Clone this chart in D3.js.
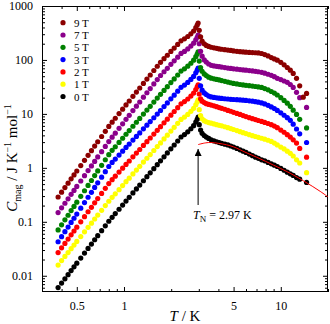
<!DOCTYPE html>
<html>
<head>
<meta charset="utf-8">
<script src="https://cdn.jsdelivr.net/npm/d3@7"></script>
<style>
  body { margin: 0; background: #fff; }
</style>
</head>
<body>
<div class="canvas"></div>
<script>
// measured temperatures (K), shared by all series
const temps = [0.38,0.40,0.42,0.44,0.46,0.48,0.50,0.53,0.56,0.59,0.62,0.65,0.68,0.72,0.76,0.80,0.84,0.88,0.93,0.98,
  1.03,1.08,1.14,1.20,1.26,1.33,1.40,1.47,1.55,1.63,1.71,1.80,1.89,1.99,2.09,2.20,2.31,2.43,2.55,2.67,2.78,2.87,2.93,2.97,
  3.02,3.08,3.15,3.25,3.35,3.47,3.60,3.75,3.90,4.05,4.20,4.40,4.60,4.80,5.00,5.25,5.50,5.75,6.00,6.30,
  6.60,6.90,7.20,7.55,7.90,8.30,8.70,9.10,9.50,10.0,10.5,11.0,11.5,12.0,12.6,13.2,13.9,14.6]

// Cmag (J K-1 mol-1), each field offset for clarity
const c9T = [0.288,0.354,0.431,0.519,0.625,0.740,0.875,1.104,1.380,1.710,2.080,2.529,3.048,3.811,4.764,5.861,7.031,8.299,10.12,12.25,
  14.69,17.34,21.13,25.35,30.2,36.8,44.2,52.6,63.7,76.4,90.4,105.4,122.2,143.6,166,194,226,246,272,305,344,397,444,484,
  354.8,269.2,223.9,199.5,186.2,177.8,171.8,167.9,164.1,160.3,157.8,154.9,152.4,150.0,147.2,144.5,142.2,140.6,139.3,138.0,
  137.1,136.1,134.9,131.8,125.9,118.9,110.9,104.7,98.9,90.2,81.3,72.4,64.6,56.2,45.7,33.1,20.4,24.0]
const c7T = [0.148,0.182,0.221,0.267,0.323,0.382,0.452,0.571,0.716,0.889,1.084,1.318,1.592,1.995,2.500,3.076,3.698,4.385,5.395,6.561,
  7.925,9.397,11.53,13.90,16.63,20.42,24.66,29.51,35.89,43.35,51.5,60.4,70.1,82.8,96.2,112.7,132.1,144.2,160.0,180.7,204.2,236.0,263.6,288.4,
  199.5,144.5,117.5,100,91.2,84.1,79.4,77.6,76.2,75.0,73.8,72.1,70.8,69.7,68.5,67.5,66.4,65.3,64.6,63.5,
  62.5,61.5,60.4,58.9,56.8,54.3,51.9,49.0,45.7,43.2,40.7,38.5,35.1,30.9,25.1,20.0,null,13.2]
const c5T = [0.0708,0.0881,0.1086,0.1324,0.1618,0.1932,0.2312,0.2965,0.3767,0.4732,0.5834,0.7194,0.877,1.114,1.413,1.758,2.109,2.460,2.965,3.540,
  4.198,4.909,5.902,6.998,8.241,9.93,11.78,13.84,16.56,19.63,23.07,27.23,31.92,38.02,44.46,52.6,62.1,68.4,76.6,86.9,98.9,115.1,128.8,141.3,
  95.5,72.4,61.7,55.0,51.3,47.9,45.9,44.7,43.6,42.7,41.5,40.1,38.9,37.8,36.8,35.9,35.1,34.4,33.9,33.3,
  32.8,32.2,31.6,30.9,29.5,27.9,26.0,24.3,22.4,20.0,17.8,15.8,13.8,11.7,9.77,7.94,null,5.50]
const c3T = [0.0427,0.0531,0.0655,0.0798,0.0975,0.1164,0.1393,0.1786,0.2270,0.2851,0.3516,0.4335,0.5284,0.6714,0.8511,1.059,1.259,1.455,1.726,2.037,
  2.388,2.754,3.266,3.828,4.446,5.284,6.194,7.194,8.492,9.93,11.56,13.65,16.00,19.05,22.28,26.36,31.12,34.28,38.37,43.55,49.55,57.68,64.57,70.79,
  45.7,33.1,27.5,24.5,22.9,21.4,20.65,20.18,19.86,19.59,19.36,19.10,18.88,18.66,18.49,18.32,18.16,17.95,17.74,17.50,
  17.22,16.87,16.48,15.96,15.31,14.45,13.49,12.59,11.61,10.47,9.44,8.51,7.59,6.46,5.25,4.27,null,2.95]
const c2T = [0.0269,0.0329,0.0398,0.0478,0.0574,0.0676,0.0796,0.1000,0.1245,0.1535,0.1858,0.2249,0.2698,0.3357,0.4178,0.5105,0.6039,0.6998,0.8337,0.9863,
  1.159,1.340,1.600,1.879,2.188,2.606,3.062,3.573,4.227,4.966,5.794,6.823,7.980,9.484,11.09,13.06,15.38,16.90,18.88,21.43,24.32,28.31,31.70,34.67,
  23.4,19.1,17.2,16.2,15.5,15.0,14.6,14.1,13.6,13.1,12.7,12.2,11.6,11.2,10.7,10.2,9.77,9.33,8.91,8.51,
  8.17,7.85,7.55,7.24,6.95,6.64,6.31,5.96,5.56,5.01,4.57,4.12,3.72,3.31,2.88,2.29,null,1.58]
const c1T = [0.0158,0.0191,0.0228,0.0269,0.0318,0.0371,0.0432,0.0532,0.0652,0.0791,0.0944,0.1127,0.1334,0.1633,0.1995,0.2404,0.2838,0.3296,0.3945,0.4699,
  0.5546,0.6442,0.7709,0.9099,1.067,1.279,1.507,1.766,2.099,2.477,2.904,3.436,4.036,4.808,5.649,6.683,7.907,8.730,9.795,11.14,12.71,14.79,16.60,18.20,
  12.0,9.33,8.13,7.50,7.16,6.92,6.73,6.52,6.31,6.15,6.00,5.78,5.56,5.35,5.14,4.90,4.68,4.49,4.31,4.12,
  3.95,3.81,3.68,3.54,3.40,3.25,3.09,2.88,2.66,2.43,2.24,2.04,1.86,1.66,1.41,1.23,null,0.813]
const c0T = [0.00603,0.00731,0.00879,0.01047,0.01247,0.01462,0.01710,0.02128,0.02630,0.03214,0.03864,0.04645,0.05534,0.06839,0.08433,0.1023,0.1213,0.1419,0.1710,0.2046,
  0.2427,0.2838,0.3428,0.4064,0.4786,0.5768,0.6855,0.8072,0.9660,1.146,1.349,1.603,1.888,2.254,2.655,3.148,3.733,4.140,4.645,5.309,6.053,7.063,7.943,8.710,
  6.31,5.01,4.37,3.98,3.72,3.51,3.31,3.16,3.05,2.94,2.85,2.75,2.66,2.54,2.43,2.29,2.16,2.04,1.93,1.80,
  1.68,1.58,1.50,1.41,1.35,1.26,1.19,1.12,1.06,0.977,0.902,0.832,0.776,0.724,0.661,0.617,null,0.537]

// fit curve through the 0 T paramagnetic tail
const fitT = [2.97,3.3,3.6,4.0,4.5,5,6,7,8,9,10,12,14,16,18,20]
const fitC = [2.7,2.9,2.95,2.85,2.68,2.45,1.92,1.58,1.32,1.12,0.97,0.74,0.57,0.45,0.36,0.29]

const fieldLabels = ['9 T','7 T','5 T','3 T','2 T','1 T','0 T']
const fieldColors = ['#8b0000','#8b008b','#008000','#0000ff','#ff0000','#ffff00','#000000']
const fieldValues = [c9T, c7T, c5T, c3T, c2T, c1T, c0T]

const tN = 2.97
const xMajor = [0.5, 1, 5, 10]
const xMinor = [0.3,0.4,0.6,0.7,0.8,0.9,2,3,4,6,7,8,9,20]
const yMajor = [0.01, 0.1, 1, 10, 100, 1000]

const width = 330
const height = 324
const pLeft = 42, pRight = 328, pTop = 6, pBottom = 292
const serif = 'Liberation Serif, Times New Roman, serif'

const svg = d3.select('.canvas')
  .append('svg')
  .attr('width', width)
  .attr('height', height)
  .style('font-family', serif)

const x = d3.scaleLog().domain([0.3, 20]).range([pLeft, pRight])
const y = d3.scaleLog().domain([0.005, 1000]).range([pBottom, pTop])

// minor y ticks: 2..9 of every decade
const yMinor = []
;[0.001, 0.01, 0.1, 1, 10, 100].forEach(d => {
  for (let k = 2; k <= 9; k++) {
    const v = d * k
    if (v > 0.005 && v < 1000) yMinor.push(v)
  }
})

// *axes, ticks pointing inward on all four sides
function addAxis(axisFn, scale, values, size, transform, labels) {
  const g = svg.append('g')
    .attr('transform', transform)
    .call(axisFn(scale).tickValues(values).tickSize(size).tickPadding(labels ? -size + 4 : 0)
      .tickFormat(labels ? (d => String(d)) : ''))
  g.select('.domain').remove()
  g.selectAll('line').attr('stroke', '#000').attr('stroke-width', 1)
  g.selectAll('text').attr('fill', '#000').style('font-family', serif).attr('font-size', 12)
  return g
}

addAxis(d3.axisBottom, x, xMinor, -3, `translate(0,${pBottom})`, false)
addAxis(d3.axisBottom, x, xMajor, -5, `translate(0,${pBottom})`, true)
addAxis(d3.axisTop, x, xMinor, -3, `translate(0,${pTop})`, false)
addAxis(d3.axisTop, x, xMajor, -5, `translate(0,${pTop})`, false)
addAxis(d3.axisLeft, y, yMinor, -3, `translate(${pLeft},0)`, false)
addAxis(d3.axisLeft, y, yMajor, -5, `translate(${pLeft},0)`, true)
addAxis(d3.axisRight, y, yMinor, -3, `translate(${pRight},0)`, false)
addAxis(d3.axisRight, y, yMajor, -5, `translate(${pRight},0)`, false)

svg.append('rect')
  .attr('x', pLeft + 0.5)
  .attr('y', pTop + 0.5)
  .attr('width', pRight - pLeft - 1)
  .attr('height', pBottom - pTop - 1)
  .attr('fill', 'none')
  .attr('stroke', '#000')
  .attr('stroke-width', 1)

const plot = svg.append('g')

// *data points, 0 T drawn first
fieldValues.slice().reverse().forEach((vals, ri) => {
  const i = fieldValues.length - 1 - ri
  const pts = temps.map((t, j) => ({ t: t, c: vals[j] })).filter(d => d.c !== null)
  plot.append('g')
    .selectAll('circle')
    .data(pts)
    .enter()
    .append('circle')
    .attr('cx', d => x(d.t))
    .attr('cy', d => y(d.c))
    .attr('r', 2.6)
    .attr('fill', fieldColors[i])
})

// *fit line
const line = d3.line()
  .x(d => x(d[0]))
  .y(d => y(d[1]))
  .curve(d3.curveCatmullRom)

plot.append('path')
  .datum(fitT.map((t, i) => [t, fitC[i]]))
  .attr('d', line)
  .attr('fill', 'none')
  .attr('stroke', '#ff0000')
  .attr('stroke-width', 1)

// *legend
const legend = svg.append('g')
fieldLabels.forEach((lab, i) => {
  const ly = 22.7 + i * 12.3
  legend.append('circle')
    .attr('cx', 63).attr('cy', ly).attr('r', 2.6)
    .attr('fill', fieldColors[i])
  legend.append('text')
    .attr('x', 74).attr('y', ly + 4)
    .attr('font-size', 11)
    .text(lab)
})

// *TN arrow and label
const defs = svg.append('defs')
defs.append('marker')
  .attr('id', 'head')
  .attr('viewBox', '0 0 10 10')
  .attr('refX', 10).attr('refY', 5)
  .attr('markerWidth', 7).attr('markerHeight', 7)
  .attr('orient', 'auto')
  .append('path')
  .attr('d', 'M0,0 L10,5 L0,10 z')
  .attr('fill', '#000')

svg.append('line')
  .attr('x1', x(tN)).attr('x2', x(tN))
  .attr('y1', 205).attr('y2', 149)
  .attr('stroke', '#000')
  .attr('stroke-width', 1)
  .attr('marker-end', 'url(#head)')

const tnText = svg.append('text')
  .attr('x', 193).attr('y', 219)
  .attr('font-size', 12)
tnText.append('tspan').attr('font-style', 'italic').text('T')
tnText.append('tspan').attr('font-size', 9).attr('dy', 3).text('N')
tnText.append('tspan').attr('dy', -3).text(' = 2.97 K')

// *axis titles
const xTitle = svg.append('text')
  .attr('x', (pLeft + pRight) / 2)
  .attr('y', 321)
  .attr('text-anchor', 'middle')
  .attr('font-size', 15)
xTitle.append('tspan').attr('font-style', 'italic').text('T')
xTitle.append('tspan').text('  /  K')

const yTitle = svg.append('text')
  .attr('transform', 'translate(17,158) rotate(-90)')
  .attr('text-anchor', 'middle')
  .attr('font-size', 15)
yTitle.append('tspan').attr('font-style', 'italic').text('C')
yTitle.append('tspan').attr('font-size', 10).attr('dy', 4).text('mag')
yTitle.append('tspan').attr('dy', -4).text('  /  J K')
yTitle.append('tspan').attr('font-size', 10).attr('dy', -6).text('\u22121')
yTitle.append('tspan').attr('dy', 6).text(' mol')
yTitle.append('tspan').attr('font-size', 10).attr('dy', -6).text('\u22121')
</script>
</body>
</html>
